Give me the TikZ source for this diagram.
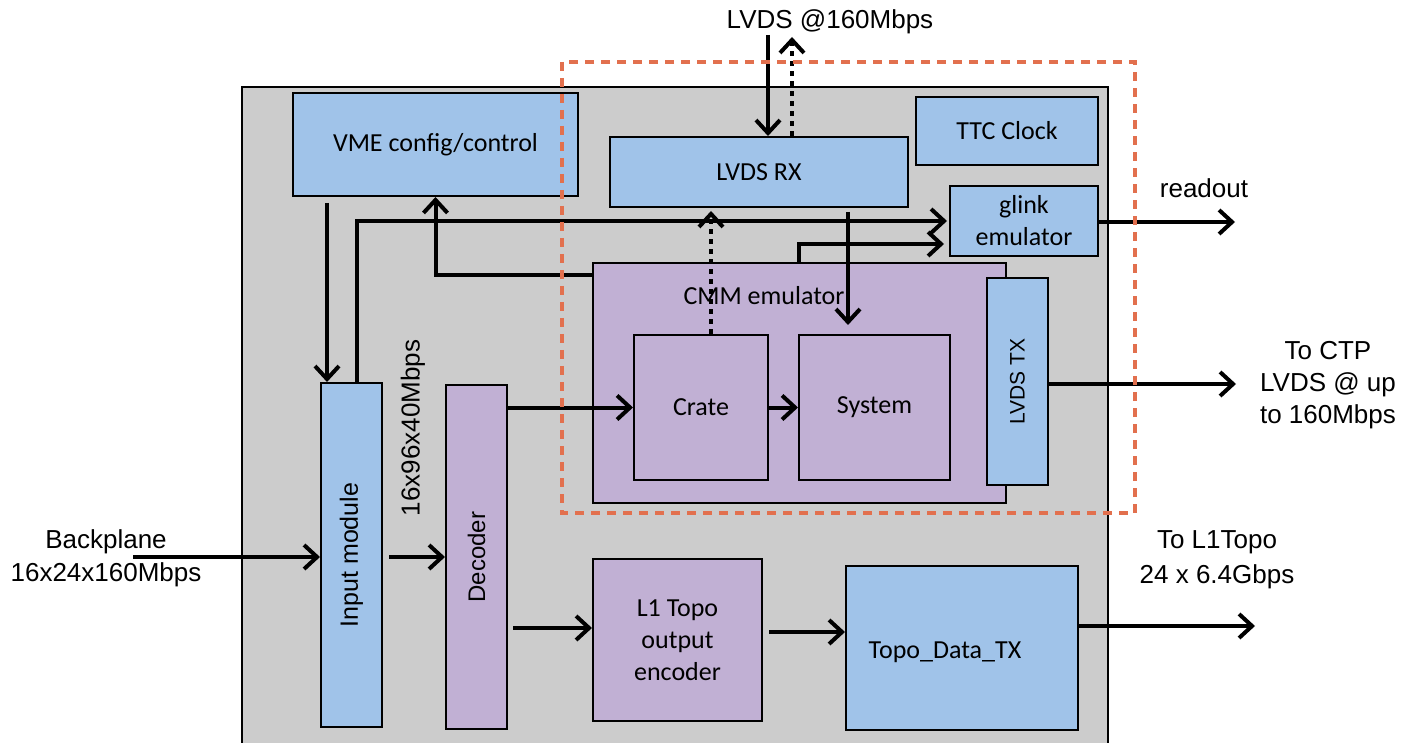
\documentclass[tikz,border=0pt]{standalone}
\usepackage{fontspec}
\setmainfont{Liberation Sans}
\newfontfamily\calfont{Carlito}
\usetikzlibrary{arrows.meta}
\definecolor{bluefill}{RGB}{160,195,233}
\definecolor{purplefill}{RGB}{193,176,212}
\definecolor{grayfill}{RGB}{204,204,204}
\definecolor{orangedash}{RGB}{226,112,78}
\begin{document}
\begin{tikzpicture}[x=1pt,y=-1pt,
  blk/.style={draw=black, line width=2pt, inner sep=0pt, align=center, font=\calfont\fontsize{26}{32}\selectfont},
  bluebox/.style={blk, fill=bluefill},
  purplebox/.style={blk, fill=purplefill},
  boxtext/.style={inner sep=0pt, align=center, font=\calfont\fontsize{26}{32}\selectfont},
  rottext/.style={inner sep=0pt, rotate=90, font=\fontsize{25}{30}\selectfont},
  outtext/.style={inner sep=0pt, align=center, font=\fontsize{26}{32}\selectfont},
  arr/.style={line width=4pt, -{Straight Barb[length=13pt,width=24pt]}},
  plainline/.style={line width=4pt},
  dotarr/.style={line width=4pt, dash pattern=on 5pt off 5pt, -{Straight Barb[length=13pt,width=24pt]}}
]
\useasboundingbox (0,0) rectangle (1406,743);
\clip (0,0) rectangle (1406,743);
% board
\path[fill=grayfill, draw=black, line width=2pt] (242,770) -- (242,87) -- (1108,87) -- (1108,770);
% blocks
\node[bluebox, minimum width=285pt, minimum height=103pt] (vme) at (435.5,144.5) {VME config/control};
\node[bluebox, minimum width=298pt, minimum height=70pt] (rx) at (759,172) {LVDS RX};
\node[bluebox, minimum width=182pt, minimum height=68pt] (ttc) at (1007,131) {TTC Clock};
\node[bluebox, minimum width=148pt, minimum height=70pt] (glink) at (1024,221) {glink\\emulator};
\node[purplebox, minimum width=413pt, minimum height=240pt] (cmm) at (799.5,383) {};
\node[boxtext] (cmmlabel) at (764,296) {CMM emulator};
\node[bluebox, minimum width=61pt, minimum height=207pt] (tx) at (1017.5,381.5) {};
\node[rottext, font=\fontsize{21}{25}\selectfont] (txlabel) at (tx.center) {LVDS TX};
\node[purplebox, minimum width=134pt, minimum height=145pt] (crate) at (701,407.5) {Crate};
\node[purplebox, minimum width=151pt, minimum height=145pt] (system) at (874.5,407.5) {System};
\node[bluebox, minimum width=61pt, minimum height=344pt] (inp) at (351.5,555) {};
\node[rottext] (inplabel) at (inp.center) {Input module};
\node[purplebox, minimum width=61pt, minimum height=344pt] (dec) at (476.5,557) {};
\node[rottext, font=\fontsize{24}{28}\selectfont] (declabel) at (dec.center) {Decoder};
\node[purplebox, minimum width=169pt, minimum height=162pt] (enc) at (677.5,640) {L1 Topo\\output\\encoder};
\node[bluebox, minimum width=232pt, minimum height=164pt] (topo) at (962,648) {};
\node[boxtext] (topolabel) at (945,652) {Topo\_Data\_TX};
% outside labels
\node[outtext] (lvdslabel) at (830,22) {LVDS @160Mbps};
\node[outtext] (readout) at (1204,188) {readout};
\node[outtext] (ctp) at (1328,385) {To CTP\\LVDS @ up\\to 160Mbps};
\node[outtext, font=\fontsize{26}{35}\selectfont] (l1topo) at (1217,560) {To L1Topo\\24 x 6.4Gbps};
\node[outtext, font=\fontsize{26}{33}\selectfont] (backplane) at (106,558) {Backplane\\16x24x160Mbps};
\node[rottext, font=\fontsize{26}{30}\selectfont] (rate) at (413,428) {16x96x40Mbps};
% free ends
\coordinate (lvdsin) at (768,35);
\coordinate (lvdsout) at (792,37);
\coordinate (bpin) at (133,557);
\coordinate (readoutend) at (1235,222);
\coordinate (ctpend) at (1236,384);
\coordinate (topoend) at (1255,626);
% connectors
\draw[arr] (lvdsin) -- (lvdsin |- rx.north);
\draw[dotarr] (rx.north -| lvdsout) -- (lvdsout);
\draw[arr] ([yshift=-6pt]vme.south -| 327,0) -- (inp.north -| 327,0);
\draw[arr] (inp.north -| 357,0) |- ([xshift=-2pt]glink.west);
\draw[arr] (cmm.west |- 0,275) -| (vme.south);
\draw[dotarr] (crate.north -| 711,0) -- (711,211);
\draw[arr] ([yshift=-4pt]rx.south -| 848,0) -- (848,325);
\draw[arr] (cmm.north -| 799,0) |- ([xshift=-5pt]glink.west |- 0,244);
\draw[arr] (glink.east |- readoutend) -- (readoutend);
\draw[arr] (tx.east |- ctpend) -- (ctpend);
\draw[arr] (bpin) -- (inp.west |- bpin);
\draw[arr] ([xshift=6pt]inp.east |- 0,557) -- (dec.west |- 0,557);
\draw[arr] (dec.east |- crate.west) -- (crate.west);
\draw[arr] ([xshift=5pt]dec.east |- 0,628) -- (enc.west |- 0,628);
\draw[arr] (crate.east) -- (system.west);
\draw[arr] ([xshift=6pt]enc.east |- 0,632) -- (topo.west |- 0,632);
\draw[arr] (topo.east |- topoend) -- (topoend);
% dashed region
\draw[orangedash, line width=3.5pt, dash pattern=on 9pt off 7pt] (562,62) rectangle (1135,513);
\end{tikzpicture}
\end{document}
